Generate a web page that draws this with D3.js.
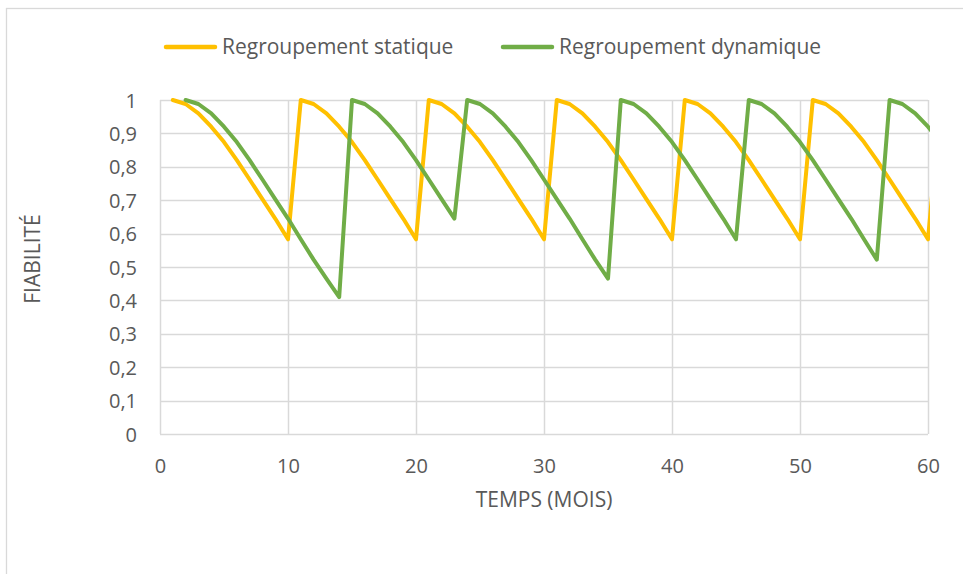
<!DOCTYPE html>
<html>
<head>
<meta charset="utf-8">
<script src="https://cdn.jsdelivr.net/npm/d3@7"></script>
<style>
  html, body { margin: 0; padding: 0; background: #fff; }
  svg { display: block; }
</style>
</head>
<body>
<svg id="chart" width="963" height="574"></svg>
<script>
// ---- Data ----
const months = [1,2,3,4,5,6,7,8,9,10,11,12,13,14,15,16,17,18,19,20,
  21,22,23,24,25,26,27,28,29,30,31,32,33,34,35,36,37,38,39,40,
  41,42,43,44,45,46,47,48,49,50,51,52,53,54,55,56,57,58,59,60,61];

const staticValues = [
  1,0.988,0.96,0.92,0.874,0.82,0.762,0.703,0.645,0.583,
  1,0.988,0.96,0.92,0.874,0.82,0.762,0.703,0.645,0.583,
  1,0.988,0.96,0.92,0.874,0.82,0.762,0.703,0.645,0.583,
  1,0.988,0.96,0.92,0.874,0.82,0.762,0.703,0.645,0.583,
  1,0.988,0.96,0.92,0.874,0.82,0.762,0.703,0.645,0.583,
  1,0.988,0.96,0.92,0.874,0.82,0.762,0.703,0.645,0.583,
  1];

const dynamicValues = [
  null,
  1,0.988,0.96,0.92,0.874,0.82,0.762,0.703,0.645,0.583,0.522,0.465,0.41,
  1,0.988,0.96,0.92,0.874,0.82,0.762,0.703,0.645,
  1,0.988,0.96,0.92,0.874,0.82,0.762,0.703,0.645,0.583,0.522,0.465,
  1,0.988,0.96,0.92,0.874,0.82,0.762,0.703,0.645,0.583,
  1,0.988,0.96,0.92,0.874,0.82,0.762,0.703,0.645,0.583,0.522,
  1,0.988,0.96,0.92,0.874];

const seriesNames = ["Regroupement statique", "Regroupement dynamique"];
const seriesColors = ["#FFC000", "#70AD47"];
const xTicks = [0,10,20,30,40,50,60];
const yTicks = [0,0.1,0.2,0.3,0.4,0.5,0.6,0.7,0.8,0.9,1];
const xTitle = "TEMPS (MOIS)";
const yTitle = "FIABILITÉ";

// ---- Layout ----
const svg = d3.select("#chart");
const W = 963, H = 574;
const plot = { left: 160, right: 928, top: 100, bottom: 434 };
const font = "'Open Sans', 'Noto Sans', sans-serif";
const textColor = "#595959";
const gridColor = "#d9d9d9";

// chart frame
svg.append("rect")
  .attr("x", 6.5).attr("y", 8.5)
  .attr("width", W + 20).attr("height", H + 20)
  .attr("fill", "#fff").attr("stroke", gridColor).attr("stroke-width", 1.3);

const x = d3.scaleLinear().domain([0, 60]).range([plot.left, plot.right]);
const y = d3.scaleLinear().domain([0, 1]).range([plot.bottom, plot.top]);

// gridlines
const g = svg.append("g");
g.selectAll("line.h").data(yTicks).join("line")
  .attr("x1", plot.left).attr("x2", plot.right)
  .attr("y1", d => Math.round(y(d)) + 0.5).attr("y2", d => Math.round(y(d)) + 0.5)
  .attr("stroke", gridColor).attr("stroke-width", 1.5);
g.selectAll("line.v").data(xTicks).join("line")
  .attr("y1", plot.top).attr("y2", plot.bottom)
  .attr("x1", d => Math.round(x(d)) + 0.5).attr("x2", d => Math.round(x(d)) + 0.5)
  .attr("stroke", gridColor).attr("stroke-width", 1.5);

// axes (labels only; lines drawn as gridlines)
const yAxis = d3.axisLeft(y).tickValues(yTicks).tickSize(0).tickPadding(0)
  .tickFormat(d => d3.format(".1~f")(d).replace(".", ","));
svg.append("g").attr("transform", `translate(${plot.left - 23},0)`).call(yAxis)
  .call(s => s.select(".domain").remove())
  .selectAll("text").attr("fill", textColor).attr("font-size", 20)
  .attr("font-family", font).attr("dy", "0.35em");

const xAxis = d3.axisBottom(x).tickValues(xTicks).tickSize(0).tickPadding(0)
  .tickFormat(d3.format("d"));
svg.append("g").attr("transform", `translate(0,${plot.bottom + 32})`).call(xAxis)
  .call(s => s.select(".domain").remove())
  .selectAll("text").attr("fill", textColor).attr("font-size", 20)
  .attr("font-family", font).attr("dy", "0.35em");

// axis titles
svg.append("text").attr("x", (plot.left + plot.right) / 2).attr("y", 500)
  .attr("text-anchor", "middle").attr("dy", "0.35em")
  .attr("fill", textColor).attr("font-size", 21).attr("font-family", font)
  .text(xTitle);
svg.append("text")
  .attr("transform", `translate(33,${(plot.top + plot.bottom) / 2 - 8}) rotate(-90)`)
  .attr("text-anchor", "middle").attr("dy", "0.35em")
  .attr("fill", textColor).attr("font-size", 21).attr("font-family", font)
  .text(yTitle);

// clip
svg.append("clipPath").attr("id", "clip").append("rect")
  .attr("x", plot.left - 4).attr("y", plot.top - 6)
  .attr("width", plot.right - plot.left + 6).attr("height", plot.bottom - plot.top + 12);

const line = d3.line()
  .defined(d => d[1] !== null)
  .x(d => x(d[0])).y(d => y(d[1]));

const allSeries = [staticValues, dynamicValues];
svg.append("g").attr("clip-path", "url(#clip)")
  .selectAll("path").data(allSeries).join("path")
  .attr("d", vals => line(months.map((m, i) => [m, vals[i]])))
  .attr("fill", "none")
  .attr("stroke", (d, i) => seriesColors[i])
  .attr("stroke-width", 4)
  .attr("stroke-linejoin", "round")
  .attr("stroke-linecap", "round");

// legend
const legendItems = [
  { x0: 166, x1: 215, tx: 222 },
  { x0: 503, x1: 552, tx: 559 }
];
const lg = svg.append("g");
legendItems.forEach((it, i) => {
  lg.append("line").attr("x1", it.x0).attr("x2", it.x1).attr("y1", 47).attr("y2", 47)
    .attr("stroke", seriesColors[i]).attr("stroke-width", 4.5).attr("stroke-linecap", "round");
  lg.append("text").attr("x", it.tx).attr("y", 47).attr("dy", "0.35em")
    .attr("fill", textColor).attr("font-size", 21).attr("font-family", font)
    .text(seriesNames[i]);
});
</script>
</body>
</html>
